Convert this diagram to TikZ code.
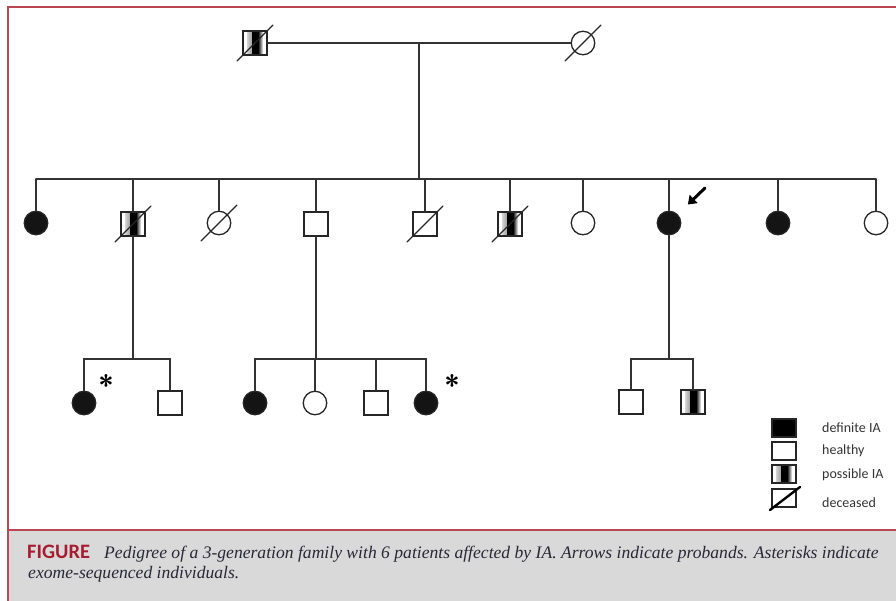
\documentclass[tikz,border=0pt]{standalone}
\usepackage{fontspec}
\usetikzlibrary{arrows.meta}
\newfontfamily\capfont{Liberation Serif}
\newfontfamily\legfont{Carlito}
\definecolor{framered}{RGB}{186,72,82}
\definecolor{figred}{RGB}{168,28,48}
\definecolor{capgray}{RGB}{217,217,217}
\definecolor{captext}{RGB}{40,40,55}

\begin{document}
\begin{tikzpicture}[x=1pt,y=-1pt,line cap=round,
  kin/.style={line width=1.2pt,draw=black!80},
  male/.style={draw=black!85,line width=1.3pt,rectangle,minimum size=24pt,inner sep=0pt,fill=white},
  female/.style={draw=black!85,line width=1.3pt,circle,minimum size=23.5pt,inner sep=0pt,fill=white},
  aff/.style={fill=black!92},
  poss/.style={path picture={
    \shade[left color=white,right color=black] ([xshift=-8pt]path picture bounding box.south) rectangle ([xshift=-3pt]path picture bounding box.north);
    \fill[black] ([xshift=-3pt]path picture bounding box.south) rectangle ([xshift=3pt]path picture bounding box.north);
    \shade[left color=black,right color=white] ([xshift=3pt]path picture bounding box.south) rectangle ([xshift=8pt]path picture bounding box.north);}},
  dead/.style={line width=1.2pt,draw=black!85},
  legbox/.style={draw=black!85,line width=1.2pt,minimum width=24pt,minimum height=18pt,inner sep=0pt,fill=white},
  legtext/.style={anchor=west,inner sep=0pt,font=\legfont\fontsize{14}{16}\selectfont,text=black!80},
  astx/.style={inner sep=0pt,font=\sffamily\bfseries\fontsize{28}{28}\selectfont},
  proband/.style={line width=3pt,shorten >=14pt,-{Triangle[length=8pt,width=11pt]}},
  frame/.style={line width=2pt,draw=framered}]
\path[use as bounding box] (0,0) rectangle (896,601);
% caption band and frame
\fill[capgray] (8,530) rectangle (896,601);
\draw[frame] (8,601) -- (8,7) -- (896,7);
\draw[frame] (8,530) -- (896,530);

% generation I
\node[male,poss] (gf) at (255,43) {};
\node[female] (gm) at (583,43) {};
\draw[kin] (gf) -- (gm);
\draw[dead] (gf.center) ++(-18,18) -- ++(36,-36);
\draw[dead] (gm.center) ++(-18,18) -- ++(36,-36);
\coordinate (m1) at (419,43);
\coordinate (s1) at (419,179);
\draw[kin] (m1) -- (s1);

% generation II
\node[female,aff] (c1) at (36,223) {};
\node[male,poss] (c2) at (133,224) {};
\node[female] (c3) at (219,223) {};
\node[male] (c4) at (316,224) {};
\node[male] (c5) at (425,224) {};
\node[male,poss] (c6) at (510,224) {};
\node[female] (c7) at (583,223) {};
\node[female,aff] (c8) at (669,223) {};
\node[female,aff] (c9) at (778,223) {};
\node[female] (c10) at (876,223) {};
\draw[kin] (c1 |- s1) -- (c10 |- s1);
\draw[kin] (c1 |- s1) -- (c1);
\draw[kin] (c2 |- s1) -- (c2);
\draw[kin] (c3 |- s1) -- (c3);
\draw[kin] (c4 |- s1) -- (c4);
\draw[kin] (c5 |- s1) -- (c5);
\draw[kin] (c6 |- s1) -- (c6);
\draw[kin] (c7 |- s1) -- (c7);
\draw[kin] (c8 |- s1) -- (c8);
\draw[kin] (c9 |- s1) -- (c9);
\draw[kin] (c10 |- s1) -- (c10);
\draw[dead] (c2.center) ++(-18,18) -- ++(36,-36);
\draw[dead] (c3.center) ++(-18,18) -- ++(36,-36);
\draw[dead] (c5.center) ++(-18,18) -- ++(36,-36);
\draw[dead] (c6.center) ++(-18,18) -- ++(36,-36);
\coordinate (pb) at (705,188);
\draw[proband] (pb) -- (c8.north east);

% generation III
\coordinate (s2) at (133,359);
\coordinate (s3) at (316,359);
\coordinate (s4) at (669,359);
\node[female,aff] (d1) at (84,403) {};
\node[male] (d2) at (170,403) {};
\node[female,aff] (e1) at (255,403) {};
\node[female] (e2) at (315,403) {};
\node[male] (e3) at (376,403) {};
\node[female,aff] (e4) at (426,403) {};
\node[male] (f1) at (631,402) {};
\node[male,poss] (f2) at (693,402) {};
\draw[kin] (c2) -- (s2);
\draw[kin] (c4) -- (s3);
\draw[kin] (c8) -- (s4);
\draw[kin] (d1) -- (d1 |- s2) -- (d2 |- s2) -- (d2);
\draw[kin] (e1) -- (e1 |- s3) -- (e4 |- s3) -- (e4);
\draw[kin] (e2 |- s3) -- (e2);
\draw[kin] (e3 |- s3) -- (e3);
\draw[kin] (f1) -- (f1 |- s4) -- (f2 |- s4) -- (f2);
\node[astx] (a1) at (106,385) {*};
\node[astx] (a2) at (452,385) {*};

% legend
\node[legbox,fill=black] (lg1) at (784,428) {};
\node[legbox] (lg2) at (784,451) {};
\node[legbox,poss] (lg3) at (784,474) {};
\node[legbox] (lg4) at (784,498) {};
\draw[line width=2.4pt] (lg4.center) ++(-14,12) -- ++(30,-23);
\node[legtext] (lt1) at (822,428) {definite IA};
\node[legtext] (lt2) at (822,451) {healthy};
\node[legtext] (lt3) at (822,475) {possible IA};
\node[legtext] (lt4) at (822,503) {deceased};

% caption
\node[anchor=base west,inner sep=0pt,text=figred,font=\legfont\bfseries\fontsize{20.5}{20}\selectfont] (fig) at (27,558) {FIGURE};
\node[anchor=base west,inner sep=0pt,text=captext,font=\capfont\itshape\fontsize{17.6}{17}\selectfont] (cap1) at (104,558) {Pedigree of a 3-generation family with 6 patients affected by IA. Arrows indicate probands. Asterisks indicate};
\node[anchor=base west,inner sep=0pt,text=captext,font=\capfont\itshape\fontsize{17.6}{17}\selectfont] (cap2) at (28,578) {exome-sequenced individuals.};
\end{tikzpicture}
\end{document}
